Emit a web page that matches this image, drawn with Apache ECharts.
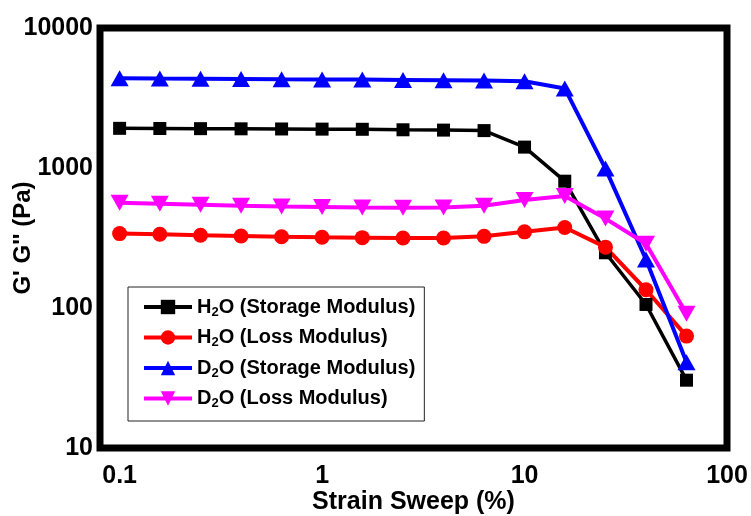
<!DOCTYPE html>
<html>
<head>
<meta charset="utf-8">
<script src="https://cdn.jsdelivr.net/npm/echarts@6/dist/echarts.min.js"></script>
<style>
  html, body { margin: 0; padding: 0; background: #fff; }
  #chart { width: 751px; height: 516px; }
</style>
</head>
<body>
<div id="chart"></div>
<script>
// Strain values (%) of the amplitude sweep
const strain = [0.1, 0.158, 0.251, 0.398, 0.631, 1, 1.58, 2.51, 3.98, 6.31, 10, 15.8, 25.1, 39.8, 63.1];

// Moduli (Pa)
const h2oStorage = [1920, 1915, 1910, 1905, 1900, 1895, 1890, 1875, 1865, 1850, 1410, 805, 248, 106, 30.5];
const h2oLoss    = [340, 336, 331, 327, 323, 320, 318, 316, 316, 325, 350, 376, 272, 135, 63];
const d2oStorage = [4370, 4350, 4340, 4320, 4300, 4290, 4280, 4260, 4240, 4220, 4160, 3700, 990, 222, 41];
const d2oLoss    = [565, 556, 547, 538, 530, 527, 522, 520, 522, 538, 590, 630, 435, 288, 91];

// Axis tick labels (decades)
const xTickLabels = ['0.1', '1', '10', '100'];
const yTickLabels = ['10', '100', '1000', '10000'];

// Legend entries; the digit after the first letter is set as a subscript
const seriesNames = ['H2O (Storage Modulus)', 'H2O (Loss Modulus)', 'D2O (Storage Modulus)', 'D2O (Loss Modulus)'];

const FONT = '"Liberation Sans", Arial, Helvetica, sans-serif';

function decadeLabel(labels, firstExp) {
  return function (v) {
    const e = Math.log10(v);
    const k = Math.round(e);
    if (Math.abs(e - k) > 1e-6) return '';
    const i = k - firstExp;
    return (i >= 0 && i < labels.length) ? labels[i] : '';
  };
}

function pairs(ys) {
  return strain.map((x, i) => [x, ys[i]]);
}

const chart = echarts.init(document.getElementById('chart'), null, { renderer: 'canvas' });

const invTriangle = 'path://M0,0 L10,0 L5,9 Z';

chart.setOption({
  animation: false,
  backgroundColor: '#ffffff',
  grid: {
    left: 100, right: 24, top: 28, bottom: 68,
    outerBoundsMode: 'none',
    containLabel: false,
    show: true,
    borderColor: '#000',
    borderWidth: 7,
    backgroundColor: 'transparent'
  },
  xAxis: {
    type: 'log',
    logBase: 10,
    min: 0.08,
    max: 100,
    name: 'Strain Sweep (%)',
    nameLocation: 'middle',
    nameMoveOverlap: false,
    nameGap: 42,
    nameTextStyle: { fontFamily: FONT, fontWeight: 'bold', fontSize: 25, color: '#000' },
    axisLine: { show: false },
    axisTick: { show: false },
    splitLine: { show: false },
    axisLabel: {
      showMinLabel: false,
      margin: 16,
      fontFamily: FONT, fontWeight: 'bold', fontSize: 25, color: '#000',
      formatter: decadeLabel(xTickLabels, -1)
    }
  },
  yAxis: {
    type: 'log',
    logBase: 10,
    min: 10,
    max: 10000,
    name: 'G\' G\'\' (Pa)',
    nameLocation: 'middle',
    nameMoveOverlap: false,
    nameGap: 65,
    nameTextStyle: { fontFamily: FONT, fontWeight: 'bold', fontSize: 24, color: '#000' },
    axisLine: { show: false },
    axisTick: { show: false },
    splitLine: { show: false },
    axisLabel: {
      margin: 7,
      fontFamily: FONT, fontWeight: 'bold', fontSize: 25, color: '#000',
      formatter: decadeLabel(yTickLabels, 1)
    }
  },
  legend: {
    orient: 'vertical',
    left: 128,
    top: 287,
    padding: [10, 9, 11, 14],
    itemGap: 9,
    itemWidth: 48,
    itemHeight: 18,
    backgroundColor: '#fff',
    borderColor: '#222',
    borderWidth: 1,
    borderRadius: 0,
    lineStyle: { width: 4 },
    data: seriesNames,
    formatter: function (name) {
      const head = name.slice(0, 1);
      const sub = name.slice(1, 2);
      const rest = name.slice(2);
      return '{a|' + head + '}{s|' + sub + '}{a|' + rest + '}';
    },
    textStyle: {
      fontFamily: FONT, fontWeight: 'bold', fontSize: 20, color: '#000',
      rich: {
        a: { fontFamily: FONT, fontWeight: 'bold', fontSize: 20, color: '#000', lineHeight: 22 },
        s: { fontFamily: FONT, fontWeight: 'bold', fontSize: 13, color: '#000', padding: [10, 0, 0, 0] }
      }
    }
  },
  series: [
    {
      name: seriesNames[0], type: 'line', data: pairs(h2oStorage),
      symbol: 'rect', symbolSize: 13,
      lineStyle: { color: '#000', width: 3.5 },
      itemStyle: { color: '#000' }
    },
    {
      name: seriesNames[1], type: 'line', data: pairs(h2oLoss),
      symbol: 'circle', symbolSize: 15,
      lineStyle: { color: '#ff0000', width: 4 },
      itemStyle: { color: '#ff0000' }
    },
    {
      name: seriesNames[2], type: 'line', data: pairs(d2oStorage),
      symbol: 'triangle', symbolSize: [18, 16],
      lineStyle: { color: '#0000ff', width: 4 },
      itemStyle: { color: '#0000ff' }
    },
    {
      name: seriesNames[3], type: 'line', data: pairs(d2oLoss),
      symbol: invTriangle, symbolSize: [18, 16],
      lineStyle: { color: '#ff00ff', width: 4 },
      itemStyle: { color: '#ff00ff' }
    }
  ]
});
</script>
</body>
</html>
